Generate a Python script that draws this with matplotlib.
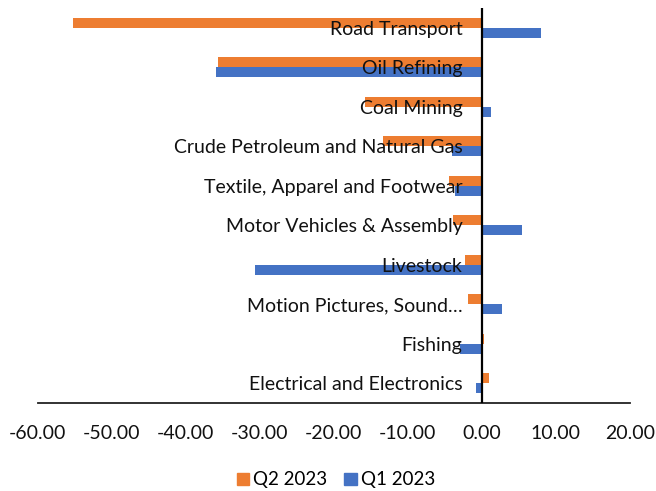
import matplotlib
matplotlib.use("Agg")
import matplotlib.pyplot as plt
import numpy as np
from matplotlib.patches import Patch
from matplotlib.transforms import offset_copy

categories = [
    "Road Transport",
    "Oil Refining",
    "Coal Mining",
    "Crude Petroleum and Natural Gas",
    "Textile, Apparel and Footwear",
    "Motor Vehicles & Assembly",
    "Livestock",
    "Motion Pictures, Sound…",
    "Fishing",
    "Electrical and Electronics",
]
q2_2023 = [-55.2, -35.6, -15.8, -13.4, -4.4, -3.9, -2.3, -1.9, 0.3, 1.0]
q1_2023 = [8.0, -35.9, 1.2, -4.1, -3.6, 5.4, -30.6, 2.7, -2.9, -0.8]
x_ticks = [-60, -50, -40, -30, -20, -10, 0, 10, 20]

orange = "#ED7D31"
blue = "#4472C4"
font = "Lato"
fs = 14

W, H = 656, 491
fig = plt.figure(figsize=(W / 100, H / 100), dpi=100)
ax = fig.add_axes([37.7 / W, 1 - 403 / H, (630 - 37.7) / W, (403 - 8) / H])

y = np.arange(len(categories))
h = 0.25
ax.barh(y - h / 2, q2_2023, height=h, color=orange, label="Q2 2023", zorder=2)
ax.barh(y + h / 2, q1_2023, height=h, color=blue, label="Q1 2023", zorder=2)

ax.set_xlim(-60, 20)
ax.set_ylim(len(categories) - 0.5, -0.5)
ax.set_xticks(x_ticks)
ax.set_xticklabels([f"{v:.2f}" for v in x_ticks], fontsize=fs, family=font, color="#111111")
ax.tick_params(axis="x", length=0, pad=16)
ax.set_yticks([])

for side in ["left", "right", "top"]:
    ax.spines[side].set_visible(False)
ax.spines["bottom"].set_color("#222222")
ax.spines["bottom"].set_linewidth(1.3)

# vertical category axis at zero
ax.axvline(0, color="black", linewidth=1.6, zorder=3)

# category labels sit just left of the zero line
trans = offset_copy(ax.transData, fig=fig, x=-14, y=-1, units="points")
for yi, name in zip(y, categories):
    ax.text(0, yi, name, transform=trans, ha="right", va="center",
            fontsize=fs, family=font, color="#111111", zorder=4)

handles = [Patch(color=orange, label="Q2 2023"), Patch(color=blue, label="Q1 2023")]
fig.legend(handles=handles, loc="center", bbox_to_anchor=(336 / W, 1 - 480 / H),
           ncol=2, frameon=False, handlelength=0.65, handleheight=0.65,
           handletextpad=0.25, columnspacing=0.9,
           prop={"family": font, "size": 13.5})

fig.savefig("out.png", dpi=100, facecolor="white")
